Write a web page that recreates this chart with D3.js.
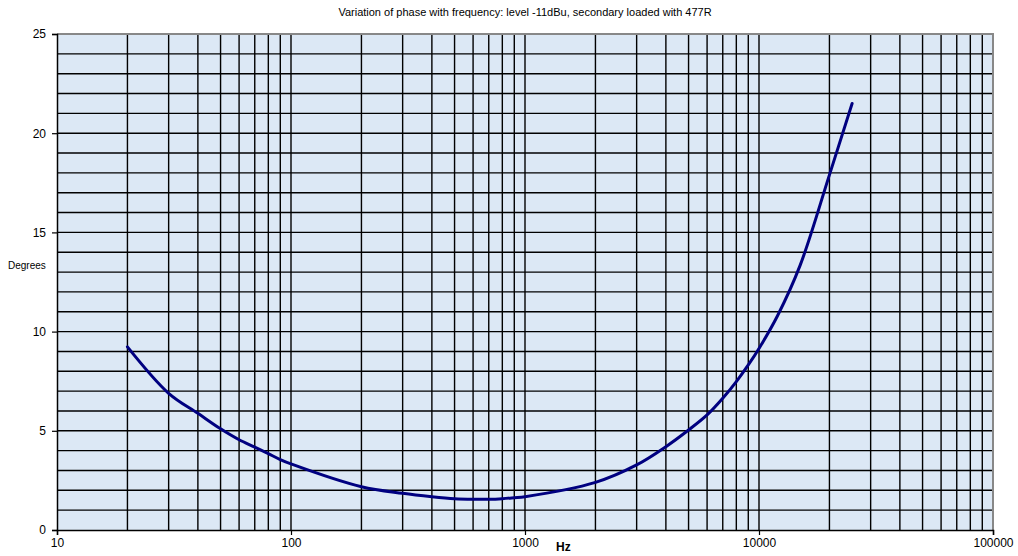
<!DOCTYPE html>
<html>
<head>
<meta charset="utf-8">
<script src="https://cdn.jsdelivr.net/npm/d3@7"></script>
<style>
  body { margin: 0; background: #fff; }
  svg { display: block; font-family: "Liberation Sans", Arial, sans-serif; }
</style>
</head>
<body>
<div id="chart"></div>
<script>
const title = "Variation of phase with frequency: level  -11dBu, secondary loaded with 477R";
const xTicks = [10, 100, 1000, 10000, 100000];
const yTicks = [0, 5, 10, 15, 20, 25];

// frequency (Hz) and phase (degrees)
const freqs = [20, 30, 40, 50, 60, 70, 80, 90, 100, 200, 300, 400, 500, 600, 700, 800, 900, 1000,
               2000, 3000, 4000, 5000, 6000, 7000, 8000, 9000, 10000, 12000, 15000, 20000, 25000];
const degrees = [9.23, 6.89, 5.88, 5.1, 4.55, 4.18, 3.85, 3.55, 3.33, 2.18, 1.85, 1.68, 1.58, 1.55, 1.55, 1.58, 1.63, 1.68,
                 2.4, 3.28, 4.2, 5.04, 5.8, 6.64, 7.48, 8.32, 9.15, 10.8, 13.35, 17.9, 21.5];

const width = 1018, height = 556;
const margin = { top: 34, right: 25, bottom: 26, left: 57 };

const svg = d3.select("#chart").append("svg")
    .attr("width", width)
    .attr("height", height);

const x = d3.scaleLog()
    .domain([10, 100000])
    .range([margin.left, width - margin.right]);

const y = d3.scaleLinear()
    .domain([0, 25])
    .range([height - margin.bottom, margin.top]);

// plot background
svg.append("rect")
    .attr("x", x(10))
    .attr("y", y(25))
    .attr("width", x(100000) - x(10))
    .attr("height", y(0) - y(25))
    .attr("fill", "#dce8f5");

// grid lines: every 1 degree, every 1..9 of each decade
const grid = svg.append("g").attr("stroke", "#000").attr("stroke-width", 1.4);

grid.selectAll("line.h")
    .data(d3.range(1, 25))
    .enter().append("line")
    .attr("class", "h")
    .attr("x1", x(10)).attr("x2", x(100000))
    .attr("y1", d => y(d)).attr("y2", d => y(d));

grid.selectAll("line.v")
    .data(x.ticks().filter(d => d > 10 && d < 100000))
    .enter().append("line")
    .attr("class", "v")
    .attr("y1", y(0)).attr("y2", y(25))
    .attr("x1", d => x(d)).attr("x2", d => x(d));

// frame: gray top/right
svg.append("path")
    .attr("d", `M${x(10)},${y(25)}H${x(100000)}V${y(0)}`)
    .attr("fill", "none")
    .attr("stroke", "#888")
    .attr("stroke-width", 2);

// axes
const yAxis = svg.append("g")
    .attr("transform", `translate(${x(10)},0)`)
    .call(d3.axisLeft(y).tickValues(yTicks).tickSize(5).tickPadding(6));

const xAxis = svg.append("g")
    .attr("transform", `translate(0,${y(0)})`)
    .call(d3.axisBottom(x).tickValues(xTicks).tickFormat(d3.format("d")).tickSize(5).tickPadding(3));

[yAxis, xAxis].forEach(a => {
    a.select(".domain").attr("stroke", "#000").attr("stroke-width", 1.5);
    a.selectAll(".tick line").attr("stroke", "#000").attr("stroke-width", 1.2);
    a.selectAll(".tick text")
        .attr("fill", "#000")
        .style("font-family", "'Liberation Sans', Arial, sans-serif")
        .style("font-size", "12px");
});

// curve
const line = d3.line()
    .x((d, i) => x(freqs[i]))
    .y(d => y(d))
    .curve(d3.curveCatmullRom.alpha(0.5));

svg.append("path")
    .datum(degrees)
    .attr("d", line)
    .attr("fill", "none")
    .attr("stroke", "#000080")
    .attr("stroke-width", 3)
    .attr("stroke-linecap", "round");

// labels
svg.append("text")
    .attr("x", 525)
    .attr("y", 16)
    .attr("text-anchor", "middle")
    .style("font-size", "11px")
    .text(title);

svg.append("text")
    .attr("x", 8)
    .attr("y", 269)
    .style("font-size", "10px")
    .text("Degrees");

svg.append("text")
    .attr("x", 556)
    .attr("y", 551)
    .style("font-size", "12px")
    .style("font-weight", "bold")
    .text("Hz");
</script>
</body>
</html>
